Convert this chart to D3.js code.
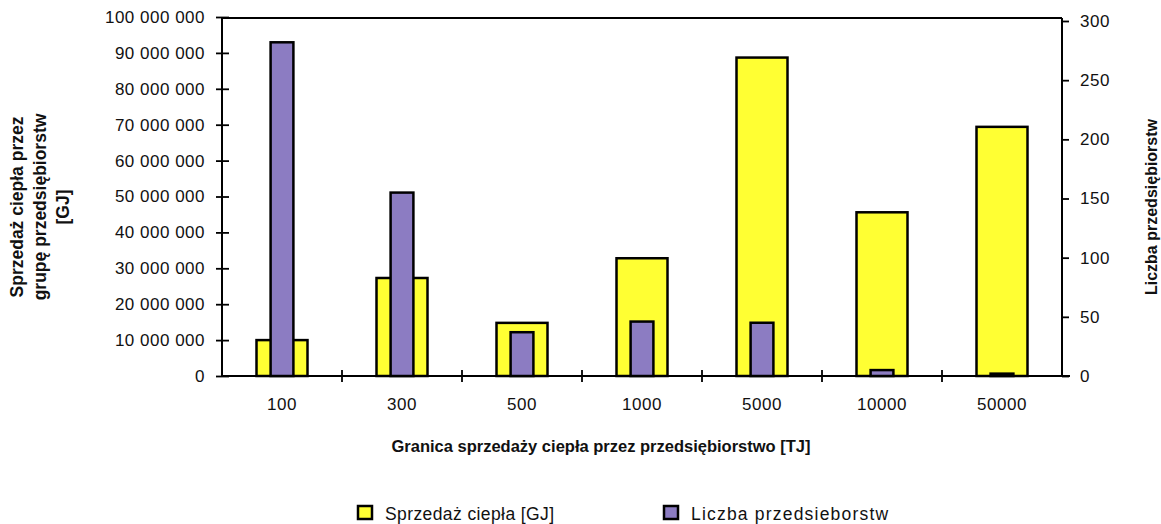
<!DOCTYPE html>
<html>
<head>
<meta charset="utf-8">
<script src="https://cdn.jsdelivr.net/npm/d3@7"></script>
<style>
  html, body { margin: 0; padding: 0; background: #fff; }
  svg { display: block; font-family: "Liberation Sans", Arial, Helvetica, sans-serif; }
</style>
</head>
<body>
<svg id="chart" width="1161" height="524"></svg>
<script>
// ---- data ----
const categories = ["100", "300", "500", "1000", "5000", "10000", "50000"];
const heatSales = [10000000, 27300000, 14800000, 32800000, 88700000, 45600000, 69400000]; // GJ
const companyCount = [282, 155, 37, 46, 45, 5, 2];
const leftTicks = [0, 10000000, 20000000, 30000000, 40000000, 50000000, 60000000, 70000000, 80000000, 90000000, 100000000];
const rightTicks = [0, 50, 100, 150, 200, 250, 300];
const leftTitle = ["Sprzedaż ciepła przez", "grupę przedsiębiorstw", "[GJ]"];
const rightTitle = "Liczba przedsiębiorstw";
const xTitle = "Granica sprzedaży ciepła przez przedsiębiorstwo [TJ]";
const legendLabels = ["Sprzedaż ciepła [GJ]", "Liczba przedsieborstw"];

// ---- layout ----
const svg = d3.select("#chart");
const X0 = 222, X1 = 1062, YB = 376, YTL = 17, YTR = 21, YFRAME = 18;
const yellow = "#ffff33", purple = "#8c7cc2";

const x = d3.scaleBand().domain(categories).range([X0, X1]).padding(0);
const yL = d3.scaleLinear().domain([0, 100000000]).range([YB, YTL]);
const yR = d3.scaleLinear().domain([0, 300]).range([YB, YTR]);
const fmt = v => d3.format(",")(v).replace(/,/g, " ");

// bars: yellow (left axis)
const bw = x.bandwidth();
const wY = bw * 0.425, wP = bw * 0.19;
svg.append("g").selectAll("rect").data(categories).join("rect")
  .attr("x", (d) => x(d) + bw / 2 - wY / 2)
  .attr("y", (d, i) => yL(heatSales[i]))
  .attr("width", wY)
  .attr("height", (d, i) => YB - yL(heatSales[i]))
  .attr("fill", yellow).attr("stroke", "#000").attr("stroke-width", 2.5);

// bars: purple (right axis)
svg.append("g").selectAll("rect").data(categories).join("rect")
  .attr("x", (d) => x(d) + bw / 2 - wP / 2)
  .attr("y", (d, i) => yR(companyCount[i]))
  .attr("width", wP)
  .attr("height", (d, i) => YB - yR(companyCount[i]))
  .attr("fill", purple).attr("stroke", "#000").attr("stroke-width", 2.5);

// frame top line
svg.append("line").attr("x1", X0).attr("x2", X1).attr("y1", YFRAME).attr("y2", YFRAME)
  .attr("stroke", "#000").attr("stroke-width", 2);

// left axis
const gL = svg.append("g").attr("transform", `translate(${X0},0)`)
  .call(d3.axisLeft(yL).tickValues(leftTicks).tickFormat(fmt).tickSizeInner(6).tickSizeOuter(0).tickPadding(11));
gL.select(".domain").attr("stroke-width", 2).attr("d", `M0,${YFRAME}V${YB}`);
gL.selectAll(".tick line").attr("x1", 7).attr("x2", -6).attr("stroke-width", 1.8);
gL.selectAll(".tick text").attr("font-size", 17).attr("letter-spacing", "0.5px").attr("fill", "#111");

// right axis
const gR = svg.append("g").attr("transform", `translate(${X1},0)`)
  .call(d3.axisRight(yR).tickValues(rightTicks).tickSizeInner(7).tickSizeOuter(0).tickPadding(11));
gR.select(".domain").attr("stroke-width", 2).attr("d", `M0,${YFRAME}V${YB}`);
gR.selectAll(".tick line").attr("stroke-width", 1.8);
gR.selectAll(".tick text").attr("font-size", 17).attr("letter-spacing", "0.6px").attr("fill", "#111");

// bottom axis
const gB = svg.append("g").attr("transform", `translate(0,${YB})`)
  .call(d3.axisBottom(x).tickSize(0).tickPadding(22));
gB.select(".domain").attr("stroke-width", 2).attr("d", `M${X0},0H${X1 + 8}`);
gB.selectAll(".tick text").attr("font-size", 17).attr("letter-spacing", "0.5px").attr("fill", "#111");
// category boundary ticks
const bounds = categories.slice(1).map(c => x(c));
svg.append("g").selectAll("line").data(bounds).join("line")
  .attr("x1", d => d).attr("x2", d => d).attr("y1", YB - 6).attr("y2", YB + 6)
  .attr("stroke", "#000").attr("stroke-width", 1.8);

// axis titles
const lt = svg.append("g").attr("font-weight", "bold").attr("font-size", 17.5).attr("fill", "#111");
[17, 40, 63].forEach((cx, i) => {
  lt.append("text").attr("transform", `translate(${cx + 6},207) rotate(-90)`)
    .attr("text-anchor", "middle").text(leftTitle[i]);
});
svg.append("text").attr("transform", "translate(1157,207) rotate(-90)")
  .attr("text-anchor", "middle").attr("font-weight", "bold").attr("font-size", 16).attr("fill", "#111")
  .text(rightTitle);
svg.append("text").attr("x", 601).attr("y", 452).attr("text-anchor", "middle")
  .attr("font-weight", "bold").attr("font-size", 16.5).attr("fill", "#111").text(xTitle);

// legend
const legendX = [358, 664];
const legendColors = [yellow, purple];
const legendSpacing = ["0.4px", "1.2px"];
const lg = svg.append("g");
legendLabels.forEach((lab, i) => {
  lg.append("rect").attr("x", legendX[i]).attr("y", 506).attr("width", 14).attr("height", 13)
    .attr("fill", legendColors[i]).attr("stroke", "#000").attr("stroke-width", 2.5);
  lg.append("text").attr("x", legendX[i] + 27).attr("y", 520).attr("font-size", 17.5)
    .attr("letter-spacing", legendSpacing[i]).attr("fill", "#111").text(lab);
});
</script>
</body>
</html>
